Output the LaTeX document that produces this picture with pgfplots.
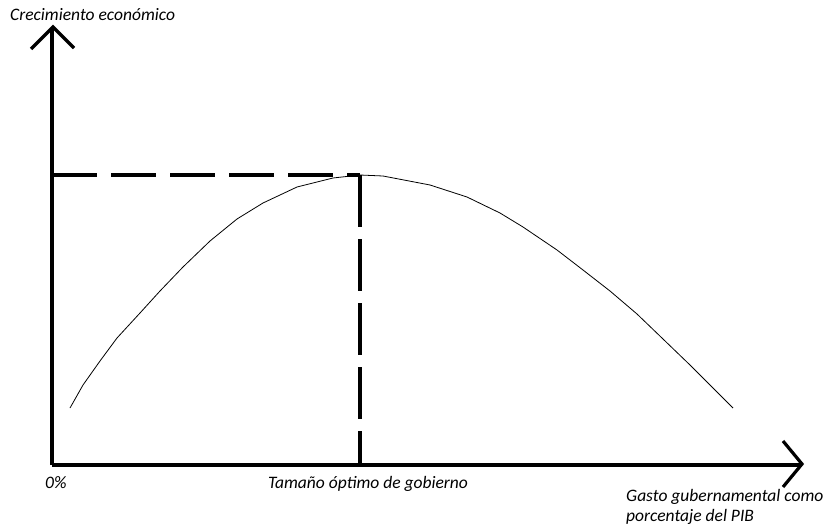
\documentclass[border=0pt]{standalone}
\usepackage{pgfplots}
\pgfplotsset{compat=1.18}
\usepackage{fontspec}
\setmainfont{Carlito}
\tikzset{lbl/.style={font=\fontsize{17.5bp}{21bp}\selectfont\itshape, text=black, inner sep=0pt}}
\begin{document}
\begin{tikzpicture}
\begin{axis}[
    width=829bp, height=527bp,
    scale only axis,
    xmin=0, xmax=829, ymin=0, ymax=527,
    y dir=reverse,
    hide axis,
    clip=false
]
% marco invisible para fijar el tamano
\path (axis cs:0,0) rectangle (axis cs:829,527);
% ejes
\addplot[black, line width=3.2bp, mark=none] coordinates {(52,465) (52,28)};
\addplot[black, line width=3.2bp, mark=none] coordinates {(52,465) (800,465)};
% flechas
\addplot[black, line width=3.2bp, mark=none, line join=miter] coordinates {(31,49) (53,27) (74,48)};
\addplot[black, line width=3.2bp, mark=none, line join=miter] coordinates {(783,441) (802,464) (783,487)};
% lineas discontinuas
\addplot[black, line width=3.2bp, mark=none, dash pattern=on 45bp off 14bp] coordinates {(52,175) (360,175)};
\addplot[black, line width=3.2bp, mark=none, dash pattern=on 52bp off 12bp] coordinates {(360,175) (360,465)};
% curva de crecimiento
\addplot[black, line width=0.8bp, mark=none] coordinates {
(70,408) (83,385) (100,361) (117,338) (140,313) (160,291) (183,267)
(210,241) (237,219) (263,203) (297,187) (333,178) (360,175)
(383,176) (430,185) (467,197) (500,213) (523,227) (557,250) (583,270)
(610,291) (637,314) (663,339) (690,365) (713,388) (733,408)};
% textos
\node[lbl, anchor=west] at (axis cs:10,15) {Crecimiento económico};
\node[lbl, anchor=west] at (axis cs:45,483) {0\%};
\node[lbl] at (axis cs:368,484) {Tamaño óptimo de gobierno};
\node[lbl, anchor=west] at (axis cs:626,497) {Gasto gubernamental como};
\node[lbl, anchor=west] at (axis cs:626,517) {porcentaje del PIB};
\end{axis}
\end{tikzpicture}
\end{document}
